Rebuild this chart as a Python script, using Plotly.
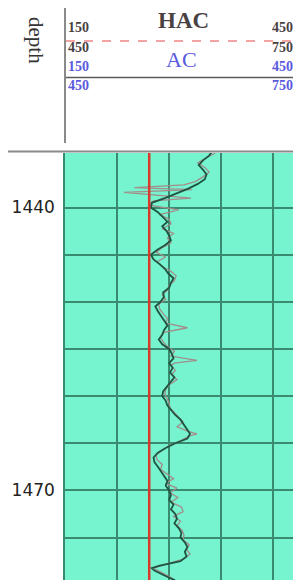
import plotly.graph_objects as go

# ---------------- data ----------------
depth_hac = [1434.0, 1434.5, 1435.0, 1435.5, 1436.0, 1436.5, 1437.0, 1437.5, 1438.0, 1438.5,
             1439.0, 1439.5, 1440.0, 1440.5, 1441.0, 1441.5, 1442.0, 1442.5, 1443.0, 1443.5,
             1444.0, 1444.5, 1445.0, 1445.5, 1446.0, 1446.5, 1447.0, 1447.5, 1448.0, 1448.5,
             1449.0, 1449.5, 1450.0, 1450.5, 1451.0, 1451.5, 1452.0, 1452.5, 1453.0, 1453.5,
             1454.0, 1454.5, 1455.0, 1455.5, 1456.0, 1456.5, 1457.0, 1457.5, 1458.0, 1458.5,
             1459.0, 1459.5, 1460.0, 1460.5, 1461.0, 1461.5, 1462.0, 1462.5, 1463.0, 1463.5,
             1464.0, 1464.5, 1465.0, 1465.5, 1466.0, 1466.5, 1467.0, 1467.5, 1468.0, 1468.5,
             1469.0, 1469.5, 1470.0, 1470.5, 1471.0, 1471.5, 1472.0, 1472.5, 1473.0, 1473.5,
             1474.0, 1474.5, 1475.0, 1475.5, 1476.0, 1476.5, 1477.0, 1477.5, 1478.0, 1478.25,
             1478.5, 1479.0, 1479.5, 1480.0]
hac = [320, 316, 309, 304, 309, 313, 311, 303, 292, 279,
       265, 250, 249, 257, 263, 268, 262, 267, 270, 272,
       265, 256, 249, 252, 259, 265, 269, 275, 272, 270,
       263, 264, 260, 254, 257, 261, 265, 268, 264, 262,
       258, 262, 270, 273, 275, 270, 274, 271, 276, 272,
       267, 263, 262, 266, 268, 272, 277, 283, 287, 290,
       294, 291, 277, 266, 257, 252, 253, 257, 261, 264,
       268, 266, 270, 272, 270, 275, 272, 277, 279, 276,
       281, 284, 283, 288, 291, 288, 290, 283, 258, 250,
       253, 264, 276, 282]

depth_ac = [1434.25, 1434.75, 1435.25, 1435.75, 1436.25, 1436.75, 1437.25, 1437.6, 1437.9, 1438.1,
            1438.4, 1438.7, 1439.0, 1439.3, 1439.75, 1440.25, 1440.75, 1441.25, 1441.75, 1442.25,
            1442.75, 1443.25, 1443.75, 1444.25, 1444.75, 1445.25, 1445.75, 1446.25, 1446.75, 1447.25,
            1447.75, 1448.25, 1448.75, 1449.25, 1449.75, 1450.25, 1450.75, 1451.25, 1451.75, 1452.25,
            1452.75, 1453.25, 1453.75, 1454.25, 1454.75, 1455.25, 1455.75, 1456.2, 1456.5, 1456.75,
            1457.25, 1457.75, 1458.25, 1458.75, 1459.25, 1459.75, 1460.25, 1460.75, 1461.25, 1461.75,
            1462.25, 1462.75, 1463.25, 1463.75, 1464.0, 1464.25, 1464.75, 1465.25, 1465.75, 1466.25,
            1466.75, 1467.25, 1467.75, 1468.25, 1468.75, 1469.25, 1469.75, 1470.25, 1470.75, 1471.25,
            1471.75, 1472.25, 1472.75, 1473.25, 1473.75, 1474.25, 1474.75, 1475.25, 1475.75, 1476.25,
            1476.75, 1477.25, 1477.75, 1478.25, 1478.75, 1479.25, 1479.75]
ac = [323, 312, 303, 311, 316, 309, 300, 287, 230, 296,
      218, 262, 295, 252, 247, 281, 259, 270, 272, 262,
      275, 268, 272, 262, 255, 266, 256, 262, 272, 278,
      276, 270, 268, 262, 266, 258, 259, 263, 268, 266,
      291, 264, 260, 263, 268, 276, 272, 302, 276, 272,
      277, 273, 279, 271, 266, 265, 268, 270, 271, 276,
      282, 286, 279, 292, 302, 293, 283, 270, 262, 255,
      256, 262, 260, 268, 275, 266, 279, 271, 280, 272,
      284, 286, 275, 283, 279, 285, 287, 286, 293, 290,
      294, 287, 270, 252, 262, 272, 280]

cutoff_value = 247
depth_span = [1434.0, 1480.0]

depth_ticks = [1440, 1445, 1450, 1455, 1460, 1465, 1470, 1475]
depth_ticktext = ["1440", "", "", "", "", "", "1470", ""]

x_range = [150, 412.6]
y_range = [1479.5, 1434.22]

# ---------------- layout helpers ----------------
W, H = 293, 580
L, T = 65, 153


def px(xp):
    return (xp - L) / (W - L)


def py(yp):
    return (H - yp) / (H - T)


fig = go.Figure()

fig.add_trace(go.Scatter(x=ac, y=depth_ac, mode="lines",
                         line=dict(color="#a38c8a", width=1.3), hoverinfo="skip"))
fig.add_trace(go.Scatter(x=hac, y=depth_hac, mode="lines",
                         line=dict(color="#1f5440", width=1.8), hoverinfo="skip"))
fig.add_trace(go.Scatter(x=[cutoff_value, cutoff_value], y=depth_span, mode="lines",
                         line=dict(color="#d8392c", width=2.5), hoverinfo="skip"))

grid_col = "#3a8a70"
fig.update_layout(
    width=W, height=H,
    margin=dict(l=L, r=0, t=T, b=0, pad=0),
    paper_bgcolor="white",
    plot_bgcolor="#76f4cf",
    showlegend=False,
    xaxis=dict(range=x_range, tick0=150, dtick=60, showgrid=True, gridcolor=grid_col,
               gridwidth=1.5, showticklabels=False, zeroline=False, ticks=""),
    yaxis=dict(range=y_range, tickmode="array", tickvals=depth_ticks, ticktext=depth_ticktext,
               showgrid=True, gridcolor=grid_col, gridwidth=1.5, zeroline=False, ticks="",
               showline=True, linecolor=grid_col, linewidth=1.5,
               ticklabelstandoff=5,
               tickfont=dict(family="DejaVu Sans", size=17, color="#222")),
)

shapes = [
    dict(type="line", xref="paper", yref="paper", x0=px(8), x1=px(293), y0=py(151.5), y1=py(151.5),
         line=dict(color="#8a8a8a", width=2)),
    dict(type="line", xref="paper", yref="paper", x0=px(65), x1=px(65), y0=py(8), y1=py(143),
         line=dict(color="#8a8a8a", width=2)),
    dict(type="line", xref="paper", yref="paper", x0=px(66), x1=px(293), y0=py(41), y1=py(41),
         line=dict(color="#ee8686", width=1.5, dash="dash")),
    dict(type="line", xref="paper", yref="paper", x0=px(66), x1=px(293), y0=py(77.5), y1=py(77.5),
         line=dict(color="#5a5a5a", width=1.5)),
]
fig.update_layout(shapes=shapes)

serif = "Liberation Serif"
dark = "#4a4242"
blue = "#5a5ae0"


def ann(text, x, y, size, color, xanchor="center", bold=False, angle=0):
    t = f"<b>{text}</b>" if bold else text
    fig.add_annotation(text=t, x=px(x), y=py(y), xref="paper", yref="paper",
                       xanchor=xanchor, yanchor="middle", showarrow=False, textangle=angle,
                       font=dict(family=serif, size=size, color=color))


ann("depth", 36, 40, 21, "#333", angle=90)
ann("HAC", 183, 20, 23, dark, bold=True)
ann("AC", 181, 60, 22, blue)
ann("150", 66, 28, 14, dark, xanchor="left", bold=True)
ann("450", 270, 28, 14, dark, xanchor="left", bold=True)
ann("450", 66, 48, 14, dark, xanchor="left", bold=True)
ann("750", 270, 48, 14, dark, xanchor="left", bold=True)
ann("150", 66, 66, 14, blue, xanchor="left", bold=True)
ann("450", 270, 66, 14, blue, xanchor="left", bold=True)
ann("450", 66, 85, 14, blue, xanchor="left", bold=True)
ann("750", 270, 85, 14, blue, xanchor="left", bold=True)

fig.write_html("out.html", config={"displayModeBar": False},
               post_script="document.body.style.margin='0';document.body.style.overflow='hidden';")
